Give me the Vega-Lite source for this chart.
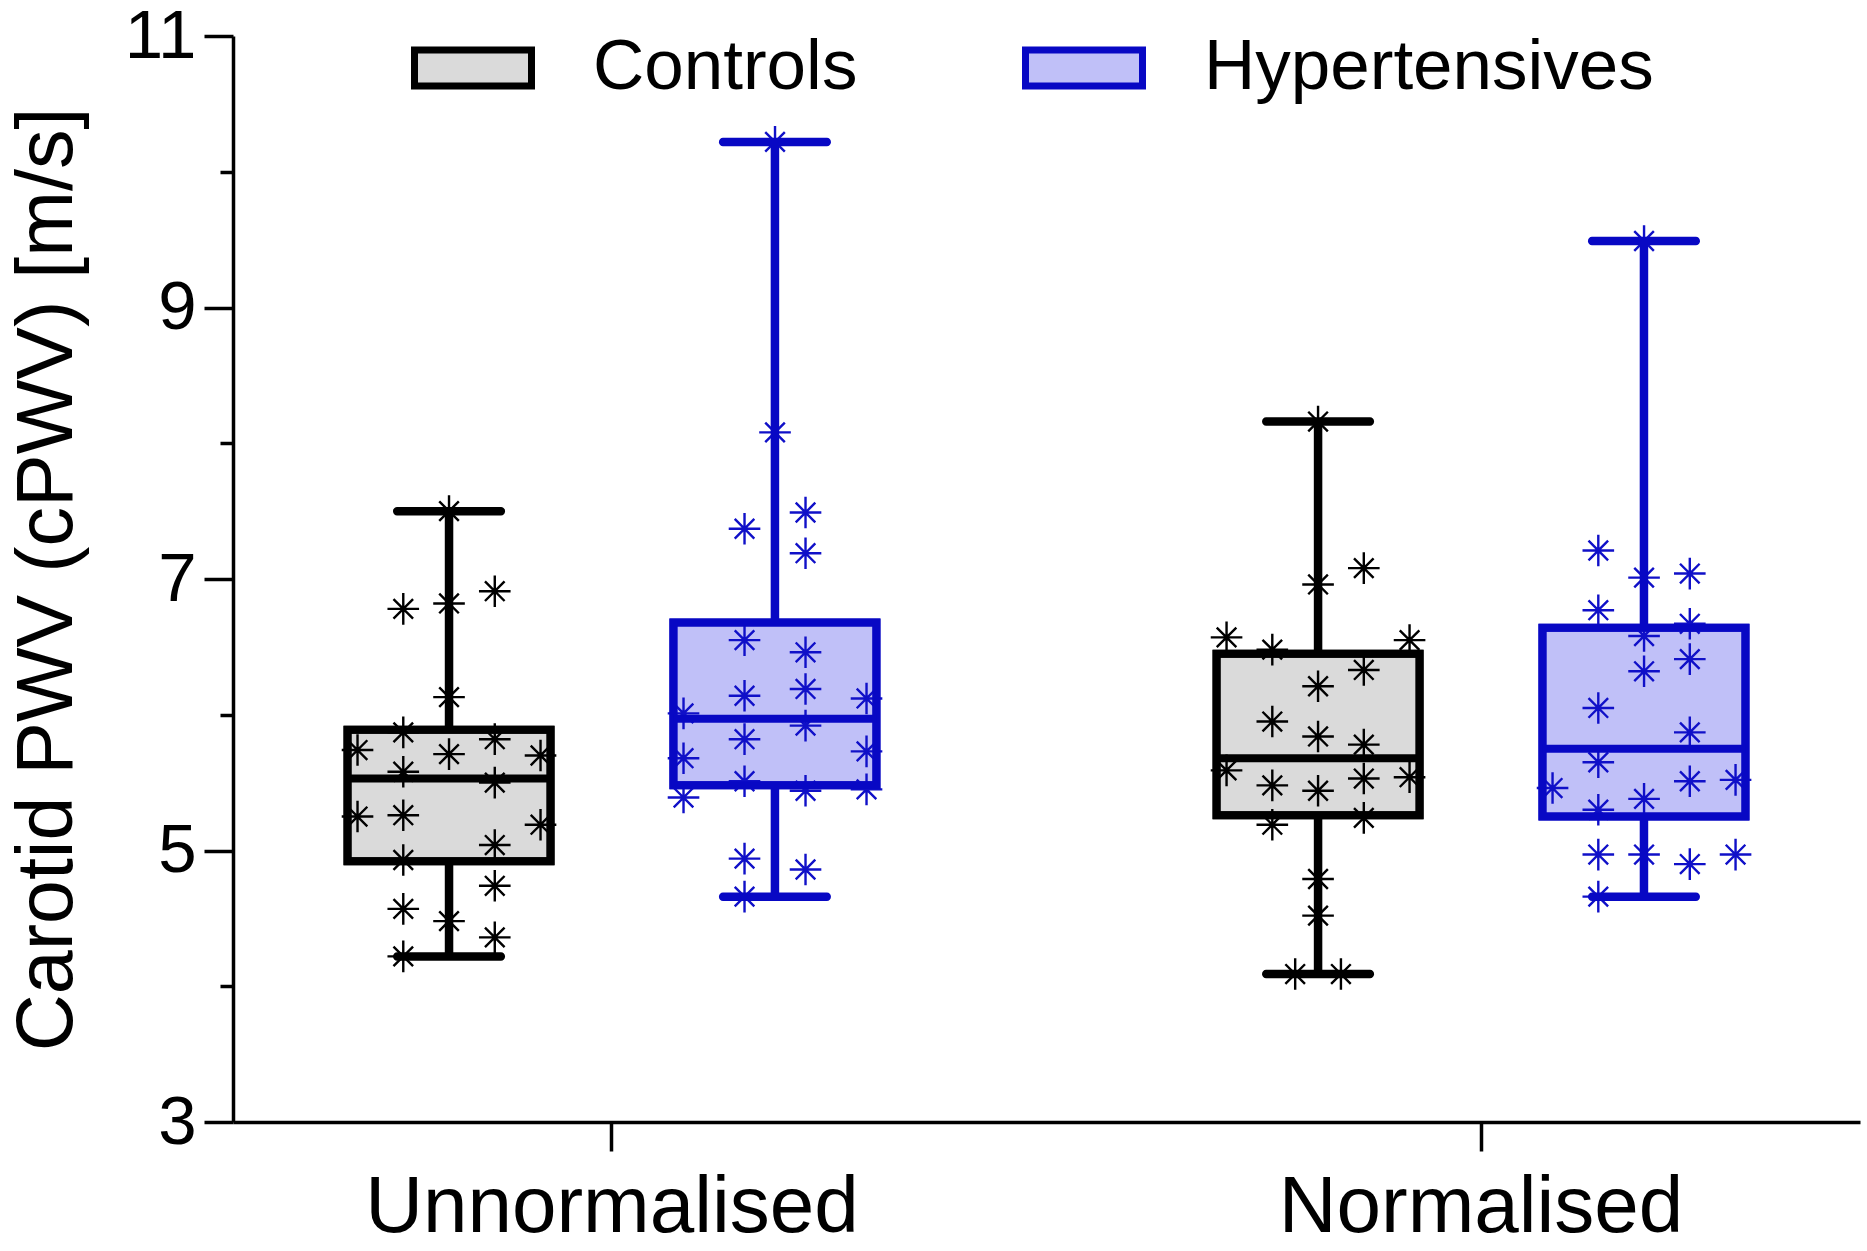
{
  "$schema": "https://vega.github.io/schema/vega-lite/v6.json",
  "width": 1627,
  "height": 1086,
  "autosize": "none",
  "padding": {"left": 233, "top": 36, "right": 7, "bottom": 129},
  "background": "white",
  "config": {
    "view": {"stroke": null},
    "font": "Liberation Sans",
    "legend": {
      "orient": "none",
      "legendX": 178,
      "legendY": -30,
      "direction": "horizontal",
      "padding": 0,
      "symbolType": "M-1,-0.308L1,-0.308L1,0.308L-1,0.308Z",
      "symbolSize": 13689,
      "symbolStrokeWidth": 7,
      "symbolOpacity": 1,
      "labelFontSize": 71,
      "labelFont": "Liberation Sans",
      "labelColor": "black",
      "labelOffset": 58,
      "labelLimit": 1000,
      "columnPadding": 153
    }
  },
  "datasets": {
    "summary": [
      {"cond": "Unnormalised", "group": "Controls", "min": 4.22, "q1": 4.92, "median": 5.53, "q3": 5.89, "max": 7.5},
      {"cond": "Unnormalised", "group": "Hypertensives", "min": 4.66, "q1": 5.48, "median": 5.97, "q3": 6.68, "max": 10.22},
      {"cond": "Normalised", "group": "Controls", "min": 4.09, "q1": 5.26, "median": 5.68, "q3": 6.45, "max": 8.16},
      {"cond": "Normalised", "group": "Hypertensives", "min": 4.66, "q1": 5.25, "median": 5.75, "q3": 6.64, "max": 9.49}
    ],
    "points": [
      {"cond": "Unnormalised", "group": "Controls", "col": 0, "pwv": 7.5},
      {"cond": "Unnormalised", "group": "Controls", "col": -1.5, "pwv": 6.78},
      {"cond": "Unnormalised", "group": "Controls", "col": 0, "pwv": 6.82},
      {"cond": "Unnormalised", "group": "Controls", "col": 1.5, "pwv": 6.91},
      {"cond": "Unnormalised", "group": "Controls", "col": 0, "pwv": 6.13},
      {"cond": "Unnormalised", "group": "Controls", "col": -1.5, "pwv": 5.87},
      {"cond": "Unnormalised", "group": "Controls", "col": -3, "pwv": 5.74},
      {"cond": "Unnormalised", "group": "Controls", "col": 0, "pwv": 5.71},
      {"cond": "Unnormalised", "group": "Controls", "col": 1.5, "pwv": 5.82},
      {"cond": "Unnormalised", "group": "Controls", "col": 3, "pwv": 5.7},
      {"cond": "Unnormalised", "group": "Controls", "col": -1.5, "pwv": 5.58},
      {"cond": "Unnormalised", "group": "Controls", "col": 1.5, "pwv": 5.5},
      {"cond": "Unnormalised", "group": "Controls", "col": -3, "pwv": 5.25},
      {"cond": "Unnormalised", "group": "Controls", "col": -1.5, "pwv": 5.26},
      {"cond": "Unnormalised", "group": "Controls", "col": 3, "pwv": 5.19},
      {"cond": "Unnormalised", "group": "Controls", "col": 1.5, "pwv": 5.04},
      {"cond": "Unnormalised", "group": "Controls", "col": -1.5, "pwv": 4.93},
      {"cond": "Unnormalised", "group": "Controls", "col": 1.5, "pwv": 4.74},
      {"cond": "Unnormalised", "group": "Controls", "col": -1.5, "pwv": 4.57},
      {"cond": "Unnormalised", "group": "Controls", "col": 0, "pwv": 4.48},
      {"cond": "Unnormalised", "group": "Controls", "col": 1.5, "pwv": 4.36},
      {"cond": "Unnormalised", "group": "Controls", "col": -1.5, "pwv": 4.22},
      {"cond": "Unnormalised", "group": "Hypertensives", "col": 0, "pwv": 10.22},
      {"cond": "Unnormalised", "group": "Hypertensives", "col": 0, "pwv": 8.08},
      {"cond": "Unnormalised", "group": "Hypertensives", "col": -1, "pwv": 7.37},
      {"cond": "Unnormalised", "group": "Hypertensives", "col": 1, "pwv": 7.49},
      {"cond": "Unnormalised", "group": "Hypertensives", "col": 1, "pwv": 7.19},
      {"cond": "Unnormalised", "group": "Hypertensives", "col": -1, "pwv": 6.55},
      {"cond": "Unnormalised", "group": "Hypertensives", "col": 1, "pwv": 6.46},
      {"cond": "Unnormalised", "group": "Hypertensives", "col": -1, "pwv": 6.14},
      {"cond": "Unnormalised", "group": "Hypertensives", "col": 1, "pwv": 6.19},
      {"cond": "Unnormalised", "group": "Hypertensives", "col": 3, "pwv": 6.12},
      {"cond": "Unnormalised", "group": "Hypertensives", "col": -3, "pwv": 6.01},
      {"cond": "Unnormalised", "group": "Hypertensives", "col": 1, "pwv": 5.92},
      {"cond": "Unnormalised", "group": "Hypertensives", "col": -1, "pwv": 5.82},
      {"cond": "Unnormalised", "group": "Hypertensives", "col": -3, "pwv": 5.68},
      {"cond": "Unnormalised", "group": "Hypertensives", "col": 3, "pwv": 5.73},
      {"cond": "Unnormalised", "group": "Hypertensives", "col": -1, "pwv": 5.51},
      {"cond": "Unnormalised", "group": "Hypertensives", "col": 1, "pwv": 5.44},
      {"cond": "Unnormalised", "group": "Hypertensives", "col": 3, "pwv": 5.45},
      {"cond": "Unnormalised", "group": "Hypertensives", "col": -3, "pwv": 5.39},
      {"cond": "Unnormalised", "group": "Hypertensives", "col": -1, "pwv": 4.94},
      {"cond": "Unnormalised", "group": "Hypertensives", "col": 1, "pwv": 4.86},
      {"cond": "Unnormalised", "group": "Hypertensives", "col": -1, "pwv": 4.66},
      {"cond": "Normalised", "group": "Controls", "col": 0, "pwv": 8.16},
      {"cond": "Normalised", "group": "Controls", "col": 0, "pwv": 6.96},
      {"cond": "Normalised", "group": "Controls", "col": 1.5, "pwv": 7.08},
      {"cond": "Normalised", "group": "Controls", "col": -3, "pwv": 6.57},
      {"cond": "Normalised", "group": "Controls", "col": -1.5, "pwv": 6.48},
      {"cond": "Normalised", "group": "Controls", "col": 3, "pwv": 6.55},
      {"cond": "Normalised", "group": "Controls", "col": 1.5, "pwv": 6.33},
      {"cond": "Normalised", "group": "Controls", "col": 0, "pwv": 6.21},
      {"cond": "Normalised", "group": "Controls", "col": -1.5, "pwv": 5.95},
      {"cond": "Normalised", "group": "Controls", "col": 0, "pwv": 5.84},
      {"cond": "Normalised", "group": "Controls", "col": 1.5, "pwv": 5.78},
      {"cond": "Normalised", "group": "Controls", "col": -3, "pwv": 5.59},
      {"cond": "Normalised", "group": "Controls", "col": -1.5, "pwv": 5.48},
      {"cond": "Normalised", "group": "Controls", "col": 0, "pwv": 5.44},
      {"cond": "Normalised", "group": "Controls", "col": 1.5, "pwv": 5.53},
      {"cond": "Normalised", "group": "Controls", "col": 3, "pwv": 5.54},
      {"cond": "Normalised", "group": "Controls", "col": -1.5, "pwv": 5.19},
      {"cond": "Normalised", "group": "Controls", "col": 1.5, "pwv": 5.24},
      {"cond": "Normalised", "group": "Controls", "col": 0, "pwv": 4.79},
      {"cond": "Normalised", "group": "Controls", "col": 0, "pwv": 4.52},
      {"cond": "Normalised", "group": "Controls", "col": -0.75, "pwv": 4.09},
      {"cond": "Normalised", "group": "Controls", "col": 0.75, "pwv": 4.09},
      {"cond": "Normalised", "group": "Hypertensives", "col": 0, "pwv": 9.49},
      {"cond": "Normalised", "group": "Hypertensives", "col": -1.5, "pwv": 7.21},
      {"cond": "Normalised", "group": "Hypertensives", "col": 0, "pwv": 7.01},
      {"cond": "Normalised", "group": "Hypertensives", "col": 1.5, "pwv": 7.04},
      {"cond": "Normalised", "group": "Hypertensives", "col": -1.5, "pwv": 6.77},
      {"cond": "Normalised", "group": "Hypertensives", "col": 1.5, "pwv": 6.67},
      {"cond": "Normalised", "group": "Hypertensives", "col": 0, "pwv": 6.58},
      {"cond": "Normalised", "group": "Hypertensives", "col": 1.5, "pwv": 6.41},
      {"cond": "Normalised", "group": "Hypertensives", "col": 0, "pwv": 6.32},
      {"cond": "Normalised", "group": "Hypertensives", "col": -1.5, "pwv": 6.05},
      {"cond": "Normalised", "group": "Hypertensives", "col": 1.5, "pwv": 5.87},
      {"cond": "Normalised", "group": "Hypertensives", "col": -1.5, "pwv": 5.65},
      {"cond": "Normalised", "group": "Hypertensives", "col": -3, "pwv": 5.46},
      {"cond": "Normalised", "group": "Hypertensives", "col": 1.5, "pwv": 5.51},
      {"cond": "Normalised", "group": "Hypertensives", "col": 3, "pwv": 5.52},
      {"cond": "Normalised", "group": "Hypertensives", "col": 0, "pwv": 5.38},
      {"cond": "Normalised", "group": "Hypertensives", "col": -1.5, "pwv": 5.3},
      {"cond": "Normalised", "group": "Hypertensives", "col": -1.5, "pwv": 4.97},
      {"cond": "Normalised", "group": "Hypertensives", "col": 0, "pwv": 4.97},
      {"cond": "Normalised", "group": "Hypertensives", "col": 1.5, "pwv": 4.9},
      {"cond": "Normalised", "group": "Hypertensives", "col": 3, "pwv": 4.97},
      {"cond": "Normalised", "group": "Hypertensives", "col": -1.5, "pwv": 4.66}
    ]
  },
  "resolve": {"scale": {"xOffset": "independent"}},
  "encoding": {
    "x": {
      "field": "cond",
      "type": "nominal",
      "sort": ["Unnormalised", "Normalised"],
      "scale": {"domain": ["Unnormalised", "Normalised"], "paddingInner": 0.3, "paddingOuter": 0.0861},
      "axis": {
        "title": null,
        "labelAngle": 0,
        "labelFontSize": 80,
        "labelFont": "Liberation Sans",
        "labelColor": "black",
        "labelPadding": 17,
        "labelLimit": 1000,
        "tickSize": 29,
        "tickWidth": 3.5,
        "tickColor": "black",
        "domainWidth": 3.5,
        "domainColor": "black",
        "grid": false
      }
    }
  },
  "layer": [
    {
      "data": {"name": "summary"},
      "mark": {"type": "rect", "strokeWidth": 8},
      "encoding": {
        "xOffset": {"field": "group", "type": "nominal", "scale": {"domain": ["Controls", "Hypertensives"], "paddingInner": 0.377, "paddingOuter": 0.1218}},
        "y": {
          "field": "q1",
          "type": "quantitative",
          "scale": {"domain": [3, 11], "nice": false, "zero": false},
          "axis": {
            "title": "Carotid PWV (cPWV) [m/s]",
            "values": [3, 4, 5, 6, 7, 8, 9, 10, 11],
            "format": "d",
            "labelExpr": "datum.value % 2 == 1 ? datum.label : ''",
            "labelFontSize": 69,
            "labelFont": "Liberation Sans",
            "labelColor": "black",
            "labelPadding": 8,
            "labelFlush": false,
            "tickSize": {"condition": {"test": "datum.value % 2 == 0", "value": 13}, "value": 29},
            "tickWidth": 3.5,
            "tickColor": "black",
            "domainWidth": 3.5,
            "domainColor": "black",
            "grid": false,
            "titleFontSize": 79,
            "titleFont": "Liberation Sans",
            "titleFontWeight": "normal",
            "titleColor": "black",
            "titleAngle": -90,
            "titleX": -186,
            "titleY": 543,
            "titleAlign": "center",
            "titleBaseline": "middle"
          }
        },
        "y2": {"field": "q3"},
        "fill": {"field": "group", "type": "nominal", "scale": {"domain": ["Controls", "Hypertensives"], "range": ["#dadada", "#c0c0f8"]}, "legend": {"title": null}},
        "stroke": {"field": "group", "type": "nominal", "scale": {"domain": ["Controls", "Hypertensives"], "range": ["#000000", "#0808c4"]}, "legend": {"title": null}}
      }
    },
    {
      "data": {"name": "points"},
      "transform": [{"filter": "datum.group == 'Controls'"}],
      "mark": {"type": "point", "shape": "M-1,0L1,0M0,-1L0,1M-0.62,-0.62L0.62,0.62M-0.62,0.62L0.62,-0.62", "size": 1000, "filled": false, "stroke": "#000000", "strokeWidth": 2.4, "opacity": 1},
      "encoding": {
        "xOffset": {"field": "col", "type": "quantitative", "scale": {"domain": [-3, 3], "range": [49.7, 232.7], "nice": false, "zero": false}},
        "y": {"field": "pwv", "type": "quantitative", "scale": {"domain": [3, 11], "nice": false, "zero": false}}
      }
    },
    {
      "data": {"name": "points"},
      "transform": [{"filter": "datum.group == 'Hypertensives'"}],
      "mark": {"type": "point", "shape": "M-1,0L1,0M0,-1L0,1M-0.62,-0.62L0.62,0.62M-0.62,0.62L0.62,-0.62", "size": 1000, "filled": false, "stroke": "#1010c8", "strokeWidth": 2.4, "opacity": 1},
      "encoding": {
        "xOffset": {"field": "col", "type": "quantitative", "scale": {"domain": [-3, 3], "range": [375.7, 558.7], "nice": false, "zero": false}},
        "y": {"field": "pwv", "type": "quantitative", "scale": {"domain": [3, 11], "nice": false, "zero": false}}
      }
    },
    {
      "data": {"name": "summary"},
      "mark": {"type": "rule", "strokeWidth": 8.5},
      "encoding": {
        "xOffset": {"field": "group", "type": "nominal", "scale": {"domain": ["Controls", "Hypertensives"], "paddingInner": 0.377, "paddingOuter": 0.1218}},
        "y": {"field": "min", "type": "quantitative", "scale": {"domain": [3, 11], "nice": false, "zero": false}},
        "y2": {"field": "q1"},
        "stroke": {"field": "group", "type": "nominal", "legend": null}
      }
    },
    {
      "data": {"name": "summary"},
      "mark": {"type": "rule", "strokeWidth": 8.5},
      "encoding": {
        "xOffset": {"field": "group", "type": "nominal", "scale": {"domain": ["Controls", "Hypertensives"], "paddingInner": 0.377, "paddingOuter": 0.1218}},
        "y": {"field": "q3", "type": "quantitative", "scale": {"domain": [3, 11], "nice": false, "zero": false}},
        "y2": {"field": "max"},
        "stroke": {"field": "group", "type": "nominal", "legend": null}
      }
    },
    {
      "data": {"name": "summary"},
      "mark": {"type": "tick", "thickness": 8.5, "size": 112, "cornerRadius": 4, "opacity": 1},
      "encoding": {
        "xOffset": {"field": "group", "type": "nominal", "scale": {"domain": ["Controls", "Hypertensives"], "paddingInner": 0.377, "paddingOuter": 0.1218}},
        "y": {"field": "min", "type": "quantitative", "scale": {"domain": [3, 11], "nice": false, "zero": false}},
        "color": {"field": "group", "type": "nominal", "scale": {"domain": ["Controls", "Hypertensives"], "range": ["#000000", "#0808c4"]}, "legend": null}
      }
    },
    {
      "data": {"name": "summary"},
      "mark": {"type": "tick", "thickness": 8.5, "size": 112, "cornerRadius": 4, "opacity": 1},
      "encoding": {
        "xOffset": {"field": "group", "type": "nominal", "scale": {"domain": ["Controls", "Hypertensives"], "paddingInner": 0.377, "paddingOuter": 0.1218}},
        "y": {"field": "max", "type": "quantitative", "scale": {"domain": [3, 11], "nice": false, "zero": false}},
        "color": {"field": "group", "type": "nominal", "legend": null}
      }
    },
    {
      "data": {"name": "summary"},
      "mark": {"type": "rect", "strokeWidth": 8, "fill": "transparent"},
      "encoding": {
        "xOffset": {"field": "group", "type": "nominal", "scale": {"domain": ["Controls", "Hypertensives"], "paddingInner": 0.377, "paddingOuter": 0.1218}},
        "y": {"field": "q1", "type": "quantitative", "scale": {"domain": [3, 11], "nice": false, "zero": false}},
        "y2": {"field": "q3"},
        "stroke": {"field": "group", "type": "nominal", "legend": null}
      }
    },
    {
      "data": {"name": "summary"},
      "mark": {"type": "tick", "thickness": 8, "size": 203, "opacity": 1},
      "encoding": {
        "xOffset": {"field": "group", "type": "nominal", "scale": {"domain": ["Controls", "Hypertensives"], "paddingInner": 0.377, "paddingOuter": 0.1218}},
        "y": {"field": "median", "type": "quantitative", "scale": {"domain": [3, 11], "nice": false, "zero": false}},
        "color": {"field": "group", "type": "nominal", "legend": null}
      }
    }
  ]
}
